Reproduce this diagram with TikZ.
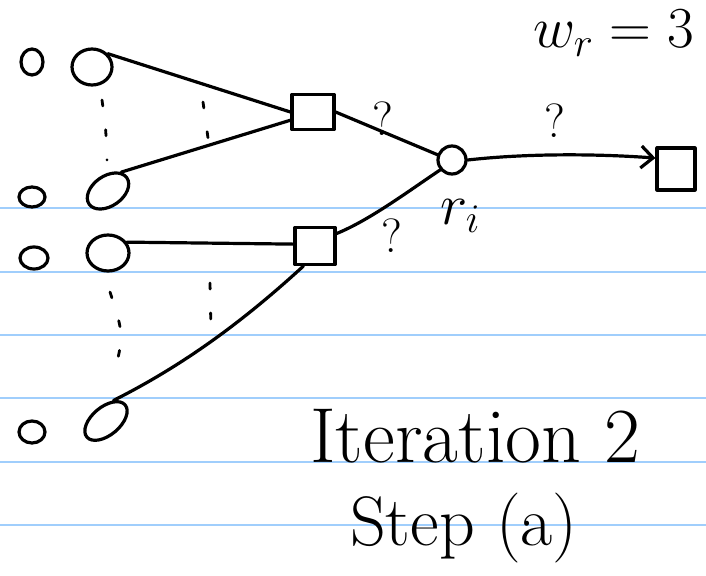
\RequirePackage{fix-cm}
\documentclass[tikz,border=0pt]{standalone}
\usepackage{fontspec}
\usetikzlibrary{shapes.geometric,arrows.meta}
\begin{document}
\begin{tikzpicture}[x=1pt,y=-1pt,
 ink/.style={line width=3.2pt,line cap=round,line join=round},
 rule/.style={draw={rgb,255:red,160;green,206;blue,252},line width=1.6pt},
 oval/.style={ellipse,draw,ink,inner sep=0pt},
 sq/.style={rectangle,draw,ink,inner sep=0pt},
 dots/.style={ink,line width=2.8pt,dash pattern=on 6pt off 24pt},
 qm/.style={font=\fontsize{48}{48}\selectfont,inner sep=0pt},
 big/.style={font=\fontsize{78}{78}\selectfont,inner sep=0pt,anchor=base west}]
\useasboundingbox (0,0) rectangle (706,575);
\foreach \yy in {208,272,335,398,462,525} \draw[rule] (0,\yy) -- (706,\yy);
% left small circles
\node[oval,minimum width=22,minimum height=26] (s1) at (32,62) {};
\node[oval,minimum width=26,minimum height=20] (s2) at (32,197) {};
\node[oval,minimum width=28,minimum height=22] (s3) at (34,258) {};
\node[oval,minimum width=26,minimum height=22] (s4) at (32,432) {};
% big ellipses
\node[oval,minimum width=40,minimum height=36] (e1) at (92,67) {};
\node[oval,minimum width=46,minimum height=30,rotate=35] (e2) at (108,191) {};
\node[oval,minimum width=42,minimum height=36] (e3) at (108,253) {};
\node[oval,minimum width=50,minimum height=28,rotate=40] (e4) at (106,421) {};
% squares and circle
\node[sq,minimum width=42,minimum height=35] (q1) at (313,112) {};
\node[sq,minimum width=40,minimum height=37] (q2) at (315,246) {};
\node[sq,minimum width=38,minimum height=42] (q3) at (676,169) {};
\node[oval,minimum width=28,minimum height=28] (c) at (452,160) {};
% connectors
\draw[ink] (e1.40) -- (q1.west);
\draw[ink] (e2.20) -- (q1.200);
\draw[ink] (e3.30) -- (q2.175);
\draw[ink] (e4.30) .. controls (190,362) and (250,315) .. (q2.240);
\draw[ink] (q1.east) -- (c.160);
\draw[ink] (q2.30) .. controls (370,220) and (410,190) .. (c.220);
\draw[ink,-{Straight Barb[length=12pt,width=22pt]}] (c.east) .. controls (530,153) and (600,154) .. (q3.152);
% vertical dotted marks
\draw[dots] (102,100) .. controls (106,130) .. (107,160);
\draw[dots] (203,102) -- (208,138);
\draw[dots] (110,292) .. controls (124,335) .. (113,378);
\draw[dots] (210,283) -- (211,332);
% labels
\node[qm] (l1) at (383,119) {?};
\node[qm] (l2) at (555,121) {?};
\node[qm] (l3) at (392,236) {?};
\node[font=\fontsize{58}{58}\selectfont,inner sep=0pt] (ri) at (460,216) {$r_i$};
\node[font=\fontsize{58}{58}\selectfont,inner sep=0pt,anchor=base west] (wr) at (533,48) {$w_r = 3$};
\node[big] (t1) at (310,462) {Iteration 2};
\node[big,font=\fontsize{70}{70}\selectfont] (t2) at (350,545) {Step (a)};
\end{tikzpicture}
\end{document}
